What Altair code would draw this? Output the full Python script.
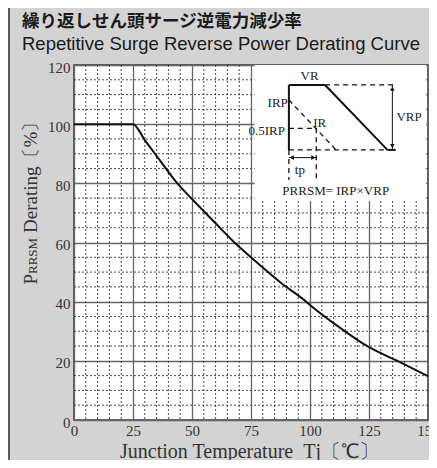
import altair as alt
import pandas as pd

# ---- data ----
temp = [0, 25, 30, 35, 43.8, 50, 60, 68, 75, 87.5, 98.4, 100, 112.5, 125, 137, 150]
derating = [100, 100, 94.6, 89.3, 80, 74.7, 66.5, 60, 55, 46.5, 40, 38.9, 31.3, 24.6, 20, 14.8]

x_ticks = [0, 25, 50, 75, 100, 125, 150]
y_ticks = [0, 20, 40, 60, 80, 100, 120]
minor_x = [5, 10, 15, 20, 30, 35, 40, 45, 55, 60, 65, 70, 80, 85, 90, 95,
           105, 110, 115, 120, 130, 135, 140, 145]
minor_y = [5, 10, 15, 25, 30, 35, 45, 50, 55, 65, 70, 75, 85, 90, 95,
           105, 110, 115]

# inset box (data units)
inset_x = [76.5]
inset_x2 = [149.2]
inset_y = [74]
inset_y2 = [120]

# inset schematic segments
solid_x = [91.05, 91.05, 106.4, 132.8]
solid_x2 = [91.05, 106.4, 132.8, 136.3]
solid_y = [91.3, 113.25, 113.25, 91.3]
solid_y2 = [113.25, 113.25, 91.3, 91.3]

dash_x = [106.4, 91.05, 91.05, 91.05, 102.65, 91.05]
dash_x2 = [136.0, 132.8, 111.05, 102.65, 102.65, 91.05]
dash_y = [113.25, 91.3, 108.2, 98.6, 98.6, 91.3]
dash_y2 = [113.25, 91.3, 91.3, 98.6, 81.1, 81.1]

arrow_x = [134.9, 91.05]
arrow_x2 = [134.9, 102.65]
arrow_y = [91.3, 88.7]
arrow_y2 = [113.25, 88.7]

head_x = [134.9, 134.9, 92.3, 101.4]
head_y = [112.0, 92.6, 88.7, 88.7]
head_shape = ["triangle-up", "triangle-down", "triangle-left", "triangle-right"]

lab_text = ["VR", "IR", "tp", "PRRSM= IRP×VRP"]
lab_x = [99.8, 104.1, 95.7, 110.9]
lab_y = [116.3, 100.5, 84.5, 77.4]

rlab_text = ["IRP", "0.5IRP"]
rlab_x = [90.6, 89.4]
rlab_y = [107.3, 97.8]

llab_text = ["VRP"]
llab_x = [136.6]
llab_y = [102.4]

title_jp = "繰り返しせん頭サージ逆電力減少率"
title_en = "Repetitive Surge Reverse Power Derating Curve"
ytitle_p = "P"
ytitle_sub = "RRSM"
ytitle_rest = "Derating〔%〕"
xtitle = "Junction Temperature\u00a0\u00a0Tj〔℃〕"

# ---- tables ----
curve_df = pd.DataFrame({"t": temp, "d": derating})
mx_df = pd.DataFrame({"x": minor_x})
my_df = pd.DataFrame({"y": minor_y})
inset_df = pd.DataFrame({"x": inset_x, "x2": inset_x2, "y": inset_y, "y2": inset_y2})
solid_df = pd.DataFrame({"x": solid_x, "x2": solid_x2, "y": solid_y, "y2": solid_y2})
dash_df = pd.DataFrame({"x": dash_x, "x2": dash_x2, "y": dash_y, "y2": dash_y2})
arrow_df = pd.DataFrame({"x": arrow_x, "x2": arrow_x2, "y": arrow_y, "y2": arrow_y2})
head_df = pd.DataFrame({"x": head_x, "y": head_y, "s": head_shape})
lab_df = pd.DataFrame({"x": lab_x, "y": lab_y, "t": lab_text})
rlab_df = pd.DataFrame({"x": rlab_x, "y": rlab_y, "t": rlab_text})
llab_df = pd.DataFrame({"x": llab_x, "y": llab_y, "t": llab_text})
one = pd.DataFrame({"a": [0]})

SERIF = "Liberation Serif"

xscale = alt.Scale(domain=[0, 150], nice=False, zero=False)
yscale = alt.Scale(domain=[0, 120], nice=False, zero=False)

x_axis = alt.Axis(values=x_ticks, grid=True, ticks=False, domain=False,
                  labelPadding=3, labelFontSize=15, labelFont=SERIF, labelColor="#333",
                  labelFlush=False,
                  title=xtitle, titleFont=SERIF, titleFontSize=20,
                  titleFontWeight="normal", titleColor="#333",
                  titleX=175, titleY=37, titleBaseline="alphabetic")
y_axis = alt.Axis(values=y_ticks, grid=True, ticks=False, domain=False,
                  labelPadding=4, labelFontSize=15, labelFont=SERIF, labelColor="#333",
                  labelOffset=2, labelFlush=False, title=None)

curve = alt.Chart(curve_df).mark_line(color="#111", strokeWidth=2, interpolate="monotone").encode(
    x=alt.X("t:Q", scale=xscale, axis=x_axis),
    y=alt.Y("d:Q", scale=yscale, axis=y_axis),
)

minor_v = alt.Chart(mx_df).mark_rule(color="#333", strokeWidth=0.9, strokeDash=[2, 2]).encode(
    x=alt.X("x:Q", scale=xscale)
)
minor_h = alt.Chart(my_df).mark_rule(color="#333", strokeWidth=0.9, strokeDash=[2, 2]).encode(
    y=alt.Y("y:Q", scale=yscale)
)

inset = alt.Chart(inset_df).mark_rect(color="white").encode(
    x=alt.X("x:Q", scale=xscale), x2="x2", y=alt.Y("y:Q", scale=yscale), y2="y2"
)

solid = alt.Chart(solid_df).mark_rule(color="#111", strokeWidth=2).encode(
    x=alt.X("x:Q", scale=xscale), x2="x2", y=alt.Y("y:Q", scale=yscale), y2="y2"
)
dashed = alt.Chart(dash_df).mark_rule(color="#111", strokeWidth=1.3, strokeDash=[5, 4]).encode(
    x=alt.X("x:Q", scale=xscale), x2="x2", y=alt.Y("y:Q", scale=yscale), y2="y2"
)
arrows = alt.Chart(arrow_df).mark_rule(color="#111", strokeWidth=1).encode(
    x=alt.X("x:Q", scale=xscale), x2="x2", y=alt.Y("y:Q", scale=yscale), y2="y2"
)
heads = alt.Chart(head_df).mark_point(filled=True, color="#111", size=22, opacity=1).encode(
    x=alt.X("x:Q", scale=xscale), y=alt.Y("y:Q", scale=yscale),
    shape=alt.Shape("s:N", scale=alt.Scale(domain=head_shape, range=head_shape), legend=None),
)

labs_c = alt.Chart(lab_df).mark_text(font=SERIF, fontSize=13, color="#222", align="center").encode(
    x=alt.X("x:Q", scale=xscale), y=alt.Y("y:Q", scale=yscale), text="t:N"
)
labs_r = alt.Chart(rlab_df).mark_text(font=SERIF, fontSize=13, color="#222", align="right").encode(
    x=alt.X("x:Q", scale=xscale), y=alt.Y("y:Q", scale=yscale), text="t:N"
)
labs_l = alt.Chart(llab_df).mark_text(font=SERIF, fontSize=13, color="#222", align="left").encode(
    x=alt.X("x:Q", scale=xscale), y=alt.Y("y:Q", scale=yscale), text="t:N"
)

# titles as text marks (pixel offsets relative to plot area)
t_jp = alt.Chart(one).mark_text(text=title_jp, font="Noto Sans CJK JP", fontSize=17.5,
                                fontWeight="bold", color="#1a1a1a", align="left",
                                baseline="alphabetic").encode(x=alt.value(-52), y=alt.value(-38))
t_en = alt.Chart(one).mark_text(text=title_en, font="Liberation Sans", fontSize=18.5,
                                color="#1a1a1a", align="left",
                                baseline="alphabetic").encode(x=alt.value(-52), y=alt.value(-15))

# y-axis title pieces (rotated)
YT_X = -37
YT_A = 209
y_p = alt.Chart(one).mark_text(text=ytitle_p, font=SERIF, fontSize=19, color="#333", angle=270,
                               align="right", baseline="alphabetic").encode(
    x=alt.value(YT_X), y=alt.value(YT_A))
y_sub = alt.Chart(one).mark_text(text=ytitle_sub, font=SERIF, fontSize=13, color="#333", angle=270,
                                 align="left", baseline="alphabetic").encode(
    x=alt.value(YT_X), y=alt.value(YT_A))
y_rest = alt.Chart(one).mark_text(text=ytitle_rest, font=SERIF, fontSize=19, color="#333", angle=270,
                                  align="left", baseline="alphabetic").encode(
    x=alt.value(YT_X), y=alt.value(YT_A - 41))

frame = alt.Chart(one).mark_rule(color="#333", strokeWidth=1.5).encode(
    x=alt.value(-65), y=alt.value(-60), y2=alt.value(420)
)

chart = alt.layer(
    minor_v, minor_h, curve, inset, solid, dashed, arrows, heads, labs_c, labs_r, labs_l,
    t_jp, t_en, y_p, y_sub, y_rest, frame
).properties(
    width=354,
    height=355,
    background="#d3d3d3",
    padding={"left": 66, "top": 57, "right": 1, "bottom": 40},
    autosize=alt.AutoSizeParams(type="none"),
).configure_view(
    fill="white", stroke="#333", strokeWidth=1.5
).configure_axis(
    gridColor="#666", gridWidth=1.3, gridOpacity=1
)

chart.save("out.html", embed_options={"renderer": "svg", "actions": False})
